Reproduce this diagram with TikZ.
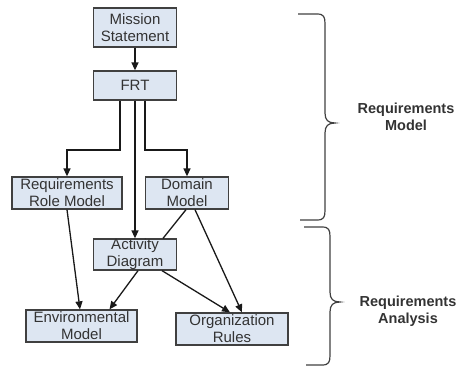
\documentclass[tikz,border=0pt]{standalone}
\usepackage{fontspec}
\setmainfont{Liberation Sans}
\usetikzlibrary{arrows.meta}
\definecolor{boxfill}{HTML}{DDE6F2}
\definecolor{boxdraw}{HTML}{404040}
\begin{document}
\begin{tikzpicture}[x=1pt,y=-1pt,
  box/.style={draw=boxdraw,line width=1.3pt,fill=boxfill,inner sep=0pt,
    align=center,font=\fontsize{15}{17}\selectfont,text=black!80},
  conn/.style={draw=black!90,line width=1.3pt},
  arr/.style={conn,-{Triangle[length=8pt,width=7pt]}},
  brace/.style={draw=black!75,line width=1.2pt},
  lab/.style={align=center,font=\bfseries\fontsize{14.5}{16.5}\selectfont,text=black!80}]
\useasboundingbox (0,0) rectangle (460,367);
\node[box,minimum width=83pt,minimum height=39pt] (ms) at (135,27.5) {Mission\\Statement};
\node[box,minimum width=83pt,minimum height=29pt] (frt) at (135,85.5) {FRT};
\node[box,minimum width=110pt,minimum height=32pt] (rrm) at (67,193) {Requirements\\Role Model};
\node[box,minimum width=83pt,minimum height=32pt] (dm) at (187,193) {Domain\\Model};
\node[box,minimum width=83pt,minimum height=31pt] (ad) at (135,254.5) {Activity\\Diagram};
\node[box,minimum width=111pt,minimum height=32pt] (em) at (81.5,326) {Environmental\\Model};
\node[box,minimum width=112pt,minimum height=32pt] (or) at (232,329) {Organization\\Rules};
\coordinate (f1) at ([xshift=-15pt]frt.south);
\coordinate (f3) at ([xshift=10pt]frt.south);
\draw[arr] (ms.south) -- (frt.north);
\draw[arr] (f1) |- (67,150) -- (rrm.north);
\draw[arr] (f3) |- (187,150) -- (dm.north);
\draw[arr] (frt.south) -- (ad.north);
\draw[arr] (rrm.south) -- ([xshift=-1.5pt]em.north);
\draw[conn] ([xshift=-1pt]dm.south) -- ([xshift=28pt]ad.north);
\draw[arr] ([xshift=8pt]dm.south) -- ([xshift=10pt]or.north);
\draw[arr] ([xshift=3pt]ad.south) -- ([xshift=28pt]em.north);
\draw[arr] ([xshift=27pt]ad.south) -- ([xshift=-2pt]or.north);
\draw[brace] (298,14) -- (317,14) .. controls (324,14) and (325,17) .. (325,24)
  -- (325,113) .. controls (325,120) and (328,123) .. (335,123)
  .. controls (328,123) and (325,126) .. (325,133)
  -- (325,210) .. controls (325,217) and (324,220) .. (317,220) -- (300,220);
\draw[brace] (304,227) -- (322,227) .. controls (329,227) and (330,230) .. (330,237)
  -- (330,292) .. controls (330,299) and (333,302) .. (340,302)
  .. controls (333,302) and (330,305) .. (330,312)
  -- (330,355) .. controls (330,362) and (329,365) .. (322,365) -- (306,365);
\node[lab] (rm) at (406,117) {Requirements\\Model};
\node[lab] (ra) at (408,311) {Requirements\\Analysis};
\end{tikzpicture}
\end{document}
